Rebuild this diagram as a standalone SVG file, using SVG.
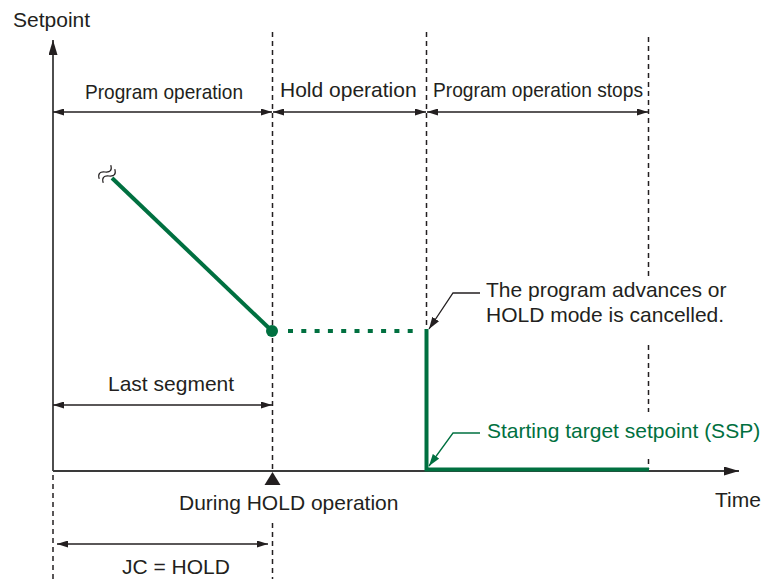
<svg xmlns="http://www.w3.org/2000/svg" width="765" height="579" viewBox="0 0 765 579">
<defs>
<style>
text{font-family:"Liberation Sans",Arial,sans-serif;font-size:21px;fill:#231f20}
.g{fill:#007040}
.ax{stroke:#3a3a3a;stroke-width:1.8;fill:none}
.dash{stroke:#231f20;stroke-width:1.5;stroke-dasharray:5,4;fill:none}
.dim{stroke:#231f20;stroke-width:1.3;fill:none;marker-start:url(#ah);marker-end:url(#ah)}
.sp{stroke:#007040;stroke-width:4;fill:none}
.sq{stroke:#231f20;stroke-width:1.2;fill:none}
</style>
<marker id="ah" viewBox="0 0 11 7" refX="11" refY="3.5" markerWidth="11" markerHeight="7" markerUnits="userSpaceOnUse" orient="auto-start-reverse">
<path d="M0,0 L11,3.5 L0,7 Z" fill="#231f20"/>
</marker>
<marker id="axh" viewBox="0 0 15 9" refX="15" refY="4.5" markerWidth="15" markerHeight="9" markerUnits="userSpaceOnUse" orient="auto">
<path d="M0,0 L15,4.5 L0,9 Z" fill="#231f20"/>
</marker>
<marker id="lk" viewBox="0 0 12 8" refX="12" refY="4" markerWidth="12" markerHeight="8" markerUnits="userSpaceOnUse" orient="auto">
<path d="M0,0 L12,4 L0,8 Z" fill="#231f20"/>
</marker>
<marker id="lg" viewBox="0 0 12 8" refX="12" refY="4" markerWidth="12" markerHeight="8" markerUnits="userSpaceOnUse" orient="auto">
<path d="M0,0 L12,4 L0,8 Z" fill="#007040"/>
</marker>
</defs>
<rect width="765" height="579" fill="#ffffff"/>

<g id="connectors">
<!-- guide dashed lines -->
<path class="dash" d="M272.5,32 V471 M272.5,523 V579"/>
<path class="dash" d="M426.5,32 V329"/>
<path class="dash" d="M648.5,37 V276 M648.5,345 V412 M648.5,459 V469"/>
<path class="dash" d="M53,475 V579"/>
<!-- axes -->
<path class="ax" d="M53,471 V40" marker-end="url(#axh)"/>
<path class="ax" d="M53,471 H739" marker-end="url(#axh)"/>
<!-- dimension arrows -->
<path class="dim" d="M53,112 H272"/>
<path class="dim" d="M273,112 H426"/>
<path class="dim" d="M427,112 H648"/>
<path class="dim" d="M53,405 H272"/>
<path class="dim" d="M57,544 H268"/>
<!-- setpoint curve -->
<path class="sp" d="M112,178 L272,331"/>
<circle cx="272" cy="331" r="6" fill="#007040"/>
<path class="sp" d="M288,331 H414" stroke-dasharray="5,8.3"/>
<path class="sp" d="M426.5,329 V469.5 H649"/>
<!-- squiggle -->
<path class="sq" transform="translate(105,172) rotate(-50)" d="M-9,0 C-6,-4.5 -3,-4.5 0,0 S6,4.5 9,0"/>
<path class="sq" transform="translate(109,176) rotate(-50)" d="M-9,0 C-6,-4.5 -3,-4.5 0,0 S6,4.5 9,0"/>
<!-- leaders -->
<path d="M480,293 H453 L429,329" stroke="#231f20" stroke-width="1.3" fill="none" marker-end="url(#lk)"/>
<path d="M480,433 H453 L429,466" stroke="#007040" stroke-width="1.3" fill="none" marker-end="url(#lg)"/>
<!-- HOLD marker -->
<path d="M272.5,472 L264.5,485 L280.5,485 Z" fill="#231f20"/>
</g>

<g id="axis-setpoint"><text x="13" y="27">Setpoint</text></g>
<g id="axis-time"><text x="715" y="507">Time</text></g>
<g id="label-program-operation"><text x="85" y="99" textLength="158" lengthAdjust="spacingAndGlyphs">Program operation</text></g>
<g id="label-hold-operation"><text x="280" y="97">Hold operation</text></g>
<g id="label-program-stops"><text x="433" y="97" textLength="210" lengthAdjust="spacingAndGlyphs">Program operation stops</text></g>
<g id="label-last-segment"><text x="108" y="391">Last segment</text></g>
<g id="label-during-hold"><text x="179" y="510">During HOLD operation</text></g>
<g id="label-jc-hold"><text x="122" y="574">JC = HOLD</text></g>
<g id="note-advance"><text x="486" y="297">The program advances or</text><text x="486" y="322">HOLD mode is cancelled.</text></g>
<g id="note-ssp"><text class="g" x="487" y="438">Starting target setpoint (SSP)</text></g>
</svg>
